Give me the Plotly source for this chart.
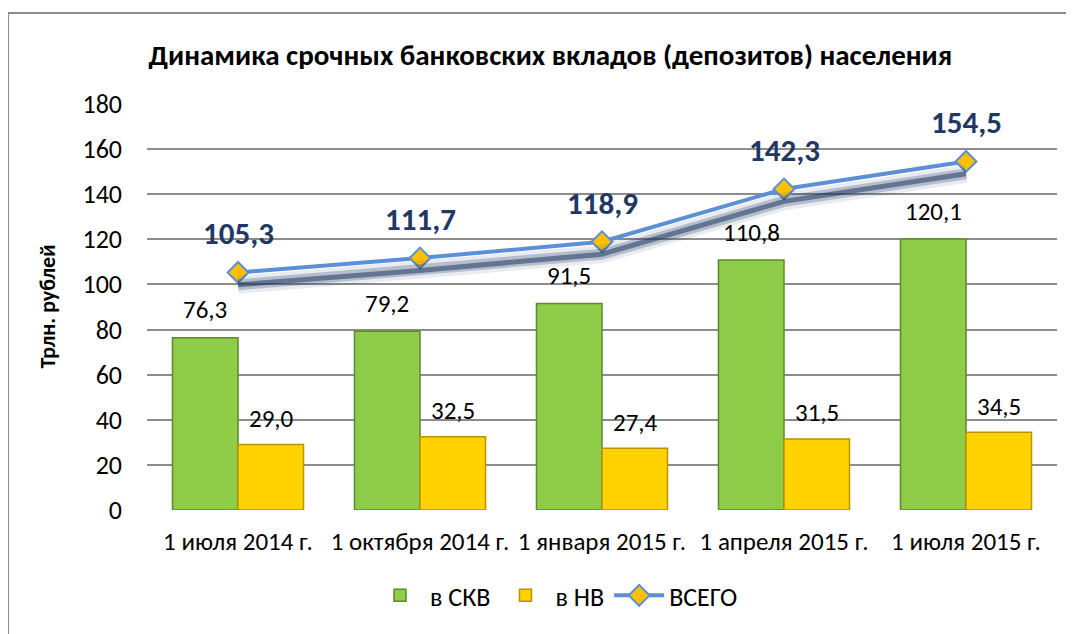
import plotly.graph_objects as go

# data
dates = ['1 июля 2014 г.', '1 октября 2014 г.', '1 января 2015 г.', '1 апреля 2015 г.', '1 июля 2015 г.']
skv = [76.3, 79.2, 91.5, 110.8, 120.1]
nv = [29.0, 32.5, 27.4, 31.5, 34.5]
total = [105.3, 111.7, 118.9, 142.3, 154.5]

def fmt(v):
    return f"{v:.1f}".replace('.', ',')

FONT = "Carlito, Calibri, 'Liberation Sans Narrow', 'Open Sans', sans-serif"

fig = go.Figure()

fig.add_trace(go.Bar(x=dates, y=skv, name='в СКВ',
                     marker=dict(color='#8FCC4A', line=dict(color='#5E8A2C', width=1.5))))
fig.add_trace(go.Bar(x=dates, y=nv, name='в НВ',
                     marker=dict(color='#FFD200', line=dict(color='#B89400', width=1.5))))

# soft shadow under the total line, drawn on a shifted twin axis
fig.add_trace(go.Scatter(x=dates, y=total, yaxis='y2', mode='lines', showlegend=False,
                         hoverinfo='skip', line=dict(color='rgba(31,56,100,0.10)', width=18)))
fig.add_trace(go.Scatter(x=dates, y=total, yaxis='y2', mode='lines', showlegend=False,
                         hoverinfo='skip', line=dict(color='rgba(31,56,100,0.25)', width=11)))
fig.add_trace(go.Scatter(x=dates, y=total, yaxis='y2', mode='lines', showlegend=False,
                         hoverinfo='skip', line=dict(color='rgba(31,56,100,0.55)', width=5)))

fig.add_trace(go.Scatter(x=dates, y=total, name='ВСЕГО', mode='lines+markers',
                         line=dict(color='#5B8FD6', width=4),
                         marker=dict(symbol='diamond', size=16, color='#FFC000',
                                     line=dict(color='#5B8FD6', width=2))))

annotations = []
for d, a, b, t in zip(dates, skv, nv, total):
    annotations.append(dict(x=d, y=a, text=fmt(a), showarrow=False, xshift=-33, yshift=28,
                            font=dict(size=25, color='#000000')))
    annotations.append(dict(x=d, y=b, text=fmt(b), showarrow=False, xshift=33, yshift=26,
                            font=dict(size=25, color='#000000')))
    annotations.append(dict(x=d, y=t, text='<b>' + fmt(t) + '</b>', showarrow=False, yshift=39,
                            font=dict(size=31, color='#1F3864')))

fig.update_layout(
    width=1074, height=634,
    margin=dict(l=139, r=25, t=95, b=132),
    paper_bgcolor='white', plot_bgcolor='white',
    font=dict(family=FONT, color='#000000'),
    title=dict(text='<b>Динамика срочных банковских вкладов (депозитов) населения</b>',
               x=0.505, xanchor='center', y=0.926, yanchor='middle',
               font=dict(size=29, family=FONT)),
    barmode='group', bargap=0.28, bargroupgap=0.0,
    xaxis=dict(tickfont=dict(size=25), showgrid=False, ticks='', showline=False,
               ticklabelstandoff=14),
    yaxis=dict(range=[0, 180.4], dtick=20, gridcolor='#8C8C8C', gridwidth=1.5,
               tickfont=dict(size=26), ticks='', zeroline=False, showline=False,
               ticklabelstandoff=24,
               title=dict(text='<b>Трлн. рублей</b>', font=dict(size=22), standoff=20)),
    # shadow axis: shifted range so the same values sit a bit lower on screen
    yaxis2=dict(range=[5.5, 185.9], overlaying='y', visible=False),
    legend=dict(orientation='h', x=0.45, xanchor='center', y=-0.21, yanchor='middle',
                font=dict(size=26), traceorder='normal', itemwidth=50),
    annotations=annotations,
    shapes=[
        dict(type='rect', xref='paper', yref='paper', x0=-0.1527, x1=1.04, y0=-0.32, y1=1.221,
             line=dict(color='#8C8C8C', width=2), fillcolor='rgba(0,0,0,0)', layer='below'),
    ],
)

fig.write_html("out.html")
